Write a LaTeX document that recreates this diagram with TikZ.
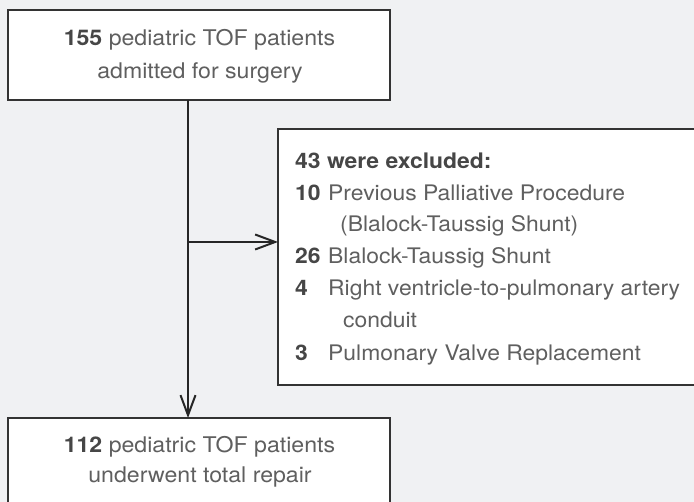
\documentclass[tikz,border=0pt]{standalone}
\usepackage{fontspec}
\setmainfont{TeX Gyre Heros}
\newfontfamily\boxfont[FakeStretch=1.07]{TeX Gyre Heros}
\usetikzlibrary{arrows.meta}
\definecolor{bgc}{HTML}{F0F1F3}
\definecolor{edgec}{HTML}{333333}
\definecolor{txtc}{HTML}{5F5F5F}
\definecolor{numc}{HTML}{464646}
\tikzset{
  boxnode/.style={draw=edgec, line width=2pt, fill=white, inner sep=0pt, outer sep=0pt, anchor=north west},
  bigtext/.style={text=txtc, inner sep=0pt, anchor=base, font=\boxfont\fontsize{21.6pt}{26pt}\selectfont},
  extext/.style={text=txtc, inner sep=0pt, anchor=base west, font=\boxfont\fontsize{21.4pt}{26pt}\selectfont},
  conn/.style={draw=black!85, line width=2pt, -{Straight Barb[length=20pt,width=15pt,line width=2pt]}},
}
\newcommand{\nb}[1]{\textcolor{numc}{\bfseries #1}}
\begin{document}
\begin{tikzpicture}[x=1pt,y=-1pt]
\useasboundingbox (0,0) rectangle (694,502);
\fill[bgc] (0,0) rectangle (694,502);
\clip (0,0) rectangle (694,502);
% boxes
\node[boxnode, minimum width=382pt, minimum height=90pt] (topbox) at (8,10) {};
\node[boxnode, minimum width=442pt, minimum height=256pt] (excl) at (278,129) {};
\node[boxnode, minimum width=382pt, minimum height=112pt] (botbox) at (8,418) {};
% top text
\node[bigtext] (t1) at (199.5,46) {\nb{155} pediatric TOF patients};
\node[bigtext] (t2) at (200,79) {admitted for surgery};
% bottom text
\node[bigtext] (b1) at (199.5,453) {\nb{112} pediatric TOF patients};
\node[bigtext] (b2) at (200,483) {underwent total repair};
% exclusion text
\node[extext] (e0) at (295,169) {\nb{43 were excluded:}};
\node[extext] (e1n) at (295,201) {\nb{10}};
\node[extext] (e1) at (328,201) {Previous Palliative Procedure};
\node[extext] (e1b) at (340,232) {(Blalock-Taussig Shunt)};
\node[extext] (e2n) at (295,264) {\nb{26}};
\node[extext] (e2) at (328,264) {Blalock-Taussig Shunt};
\node[extext] (e3n) at (295,296) {\nb{4}};
\node[extext] (e3) at (328,296) {Right ventricle-to-pulmonary artery};
\node[extext] (e3b) at (343,328) {conduit};
\node[extext] (e4n) at (295,361) {\nb{3}};
\node[extext] (e4) at (328,361) {Pulmonary Valve Replacement};
% connectors
\coordinate (lx) at (188,0);
\coordinate (br) at (188,242);
\draw[conn] (topbox.south -| lx) -- (botbox.north -| lx);
\draw[conn] (br) -- (br -| excl.west);
\end{tikzpicture}
\end{document}
